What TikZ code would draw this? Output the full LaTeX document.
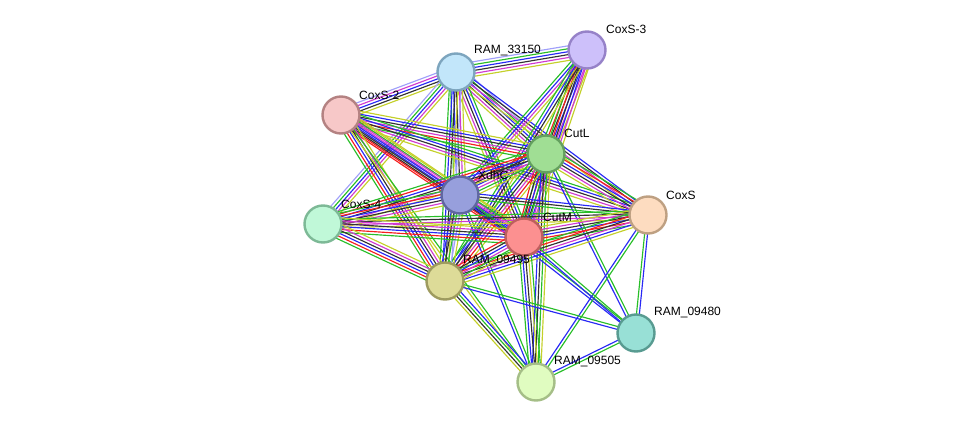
\documentclass[tikz,border=0pt]{standalone}
\usepackage{fontspec}
\setmainfont{Liberation Sans}
\usetikzlibrary{calc}
\pgfdeclarelayer{background}
\pgfsetlayers{background,main}
\definecolor{ctm}{RGB}{196,208,42}
\definecolor{cex}{RGB}{208,58,208}
\definecolor{cco}{RGB}{50,50,50}
\definecolor{coc}{RGB}{40,40,245}
\definecolor{cnb}{RGB}{40,190,40}
\definecolor{cfu}{RGB}{245,30,30}
\definecolor{cho}{RGB}{160,160,250}
\tikzset{
  prot/.style={circle,minimum size=37pt,inner sep=0pt,line width=2.4pt},
  lab/.style={anchor=west,inner sep=0pt,font=\fontsize{12}{14}\selectfont,text=black},
  edgeln/.style={line width=1.15pt}
}
\newcommand\lnk[3]{%
  \foreach \cc [count=\ii] in {#3} {\xdef\nlines{\ii}}%
  \foreach \cc [count=\ii] in {#3} {%
    \pgfmathsetmacro\off{(\ii-(\nlines+1)/2)*2.9}%
    \draw[edgeln,draw=\cc] ($(#1)!\off pt!90:(#2)$) -- ($(#2)!\off pt!-90:(#1)$);
  }%
}
\begin{document}
\begin{tikzpicture}[x=1pt,y=-1pt]
\useasboundingbox (0,0) rectangle (975,428);
% nodes
\node[prot,fill={rgb,255:red,205;green,192;blue,250},draw={rgb,255:red,150;green,130;blue,200}] (A) at (587,50) {};
\node[prot,fill={rgb,255:red,194;green,230;blue,250},draw={rgb,255:red,125;green,165;blue,190}] (B) at (456,72) {};
\node[prot,fill={rgb,255:red,247;green,200;blue,200},draw={rgb,255:red,180;green,130;blue,130}] (C) at (341,115) {};
\node[prot,fill={rgb,255:red,160;green,222;blue,148},draw={rgb,255:red,100;green,160;blue,95}] (D) at (546,154) {};
\node[prot,fill={rgb,255:red,151;green,159;blue,220},draw={rgb,255:red,95;green,103;blue,160}] (E) at (460,195) {};
\node[prot,fill={rgb,255:red,253;green,220;blue,192},draw={rgb,255:red,190;green,160;blue,130}] (F) at (648,215) {};
\node[prot,fill={rgb,255:red,192;green,248;blue,216},draw={rgb,255:red,125;green,185;blue,150}] (G) at (323,224) {};
\node[prot,fill={rgb,255:red,252;green,144;blue,144},draw={rgb,255:red,190;green,95;blue,95}] (H) at (524,237) {};
\node[prot,fill={rgb,255:red,221;green,219;blue,152},draw={rgb,255:red,158;green,155;blue,95}] (I) at (445,281) {};
\node[prot,fill={rgb,255:red,152;green,224;blue,214},draw={rgb,255:red,88;green,155;blue,145}] (J) at (636,333) {};
\node[prot,fill={rgb,255:red,224;green,252;blue,192},draw={rgb,255:red,165;green,190;blue,135}] (K) at (536,382) {};
% labels
\node[lab] (lA) at ($(A)+(19,-21)$) {CoxS-3};
\node[lab] (lB) at ($(B)+(18,-21)$) {RAM\_33150};
\node[lab] (lC) at ($(C)+(18,-20)$) {CoxS-2};
\node[lab] (lD) at ($(D)+(18,-21)$) {CutL};
\node[lab] (lE) at ($(E)+(18,-20)$) {XdhC};
\node[lab] (lF) at ($(F)+(18,-20)$) {CoxS};
\node[lab] (lG) at ($(G)+(18,-20)$) {CoxS-4};
\node[lab] (lH) at ($(H)+(19,-20)$) {CutM};
\node[lab] (lI) at ($(I)+(18,-20)$) {RAM\_09495};
\node[lab] (lJ) at ($(J)+(18,-20)$) {RAM\_09480};
\node[lab] (lK) at ($(K)+(18,-20)$) {RAM\_09505};
% edges
\begin{pgfonlayer}{background}
\lnk{B}{A}{ctm,cex,cco,coc,cnb,cho}
\lnk{B}{C}{cho,cex,coc,cco,ctm}
\lnk{B}{G}{cho,cnb,coc,cex,ctm}
\lnk{B}{D}{ctm,cex,cco,coc,cnb,cho}
\lnk{B}{H}{ctm,cex,cco,coc,cnb}
\lnk{B}{E}{cnb,coc,cco,cex,ctm}
\lnk{B}{I}{cnb,coc,cco,ctm,cho}
\lnk{B}{F}{ctm,cex,cco,coc}
\lnk{A}{D}{cnb,cfu,cco,coc,cex,ctm}
\lnk{A}{H}{cnb,cfu,cco,coc,cex,ctm}
\lnk{A}{E}{cnb,coc,cex,ctm}
\lnk{A}{I}{cnb,coc,cco,ctm}
\lnk{C}{D}{cnb,cfu,cex,cco,coc,ctm}
\lnk{C}{F}{ctm,cex,cco,coc,cnb}
\lnk{C}{E}{cfu,cco,coc,cex,cnb,ctm}
\lnk{C}{H}{cfu,cco,coc,cex,ctm}
\lnk{C}{I}{cnb,cfu,coc,cco,cex,ctm}
\lnk{C}{K}{ctm,cnb}
\lnk{D}{E}{cfu,cco,coc,cex,cnb,ctm}
\lnk{D}{F}{ctm,cex,cco,coc,cfu,cnb}
\lnk{D}{G}{cnb,cfu,coc,cco,cex,ctm}
\lnk{D}{H}{cfu,cco,coc,cnb,cex,ctm}
\lnk{D}{I}{cnb,coc,cco,cex,cfu,ctm}
\lnk{D}{K}{coc,cco,cnb,ctm}
\lnk{D}{J}{coc,cnb}
\lnk{E}{F}{cnb,cco,coc}
\lnk{E}{G}{cnb,cfu,coc,cco,cex,ctm}
\lnk{E}{H}{cfu,cco,coc,cex,cnb,ctm}
\lnk{E}{I}{coc,cco,cnb,cho,ctm}
\lnk{E}{K}{coc,cnb}
\lnk{E}{J}{coc,cnb}
\lnk{F}{G}{cnb,cco,cex,ctm}
\lnk{F}{H}{ctm,cex,cco,coc,cfu,cnb}
\lnk{F}{I}{cnb,cfu,cco,cex,coc,ctm}
\lnk{F}{J}{cnb,coc}
\lnk{F}{K}{coc,cnb}
\lnk{G}{H}{cnb,cfu,coc,cco,cex,ctm}
\lnk{G}{I}{cnb,cfu,coc,cco,cex,ctm}
\lnk{H}{I}{cfu,cco,coc,cex,cnb,ctm}
\lnk{H}{J}{coc,cnb}
\lnk{H}{K}{cnb,coc,cco,ctm,cnb}
\lnk{I}{J}{coc,cnb}
\lnk{I}{K}{ctm,cco,cnb,coc}
\lnk{J}{K}{coc,cnb}
\end{pgfonlayer}
\end{tikzpicture}
\end{document}
